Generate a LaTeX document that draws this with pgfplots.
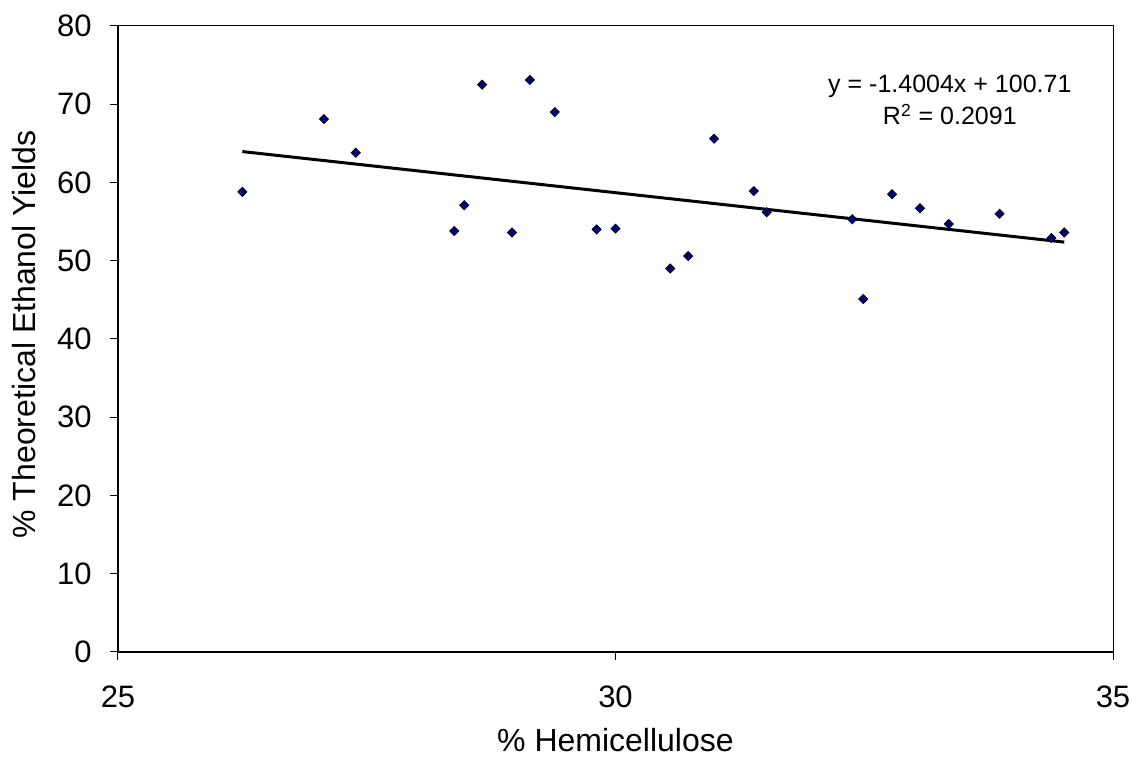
\documentclass[border=0pt]{standalone}
\usepackage{fontspec}
\setmainfont{Liberation Sans}
\usepackage{pgfplots}
\pgfplotsset{compat=1.18}
\definecolor{navymark}{RGB}{0,0,128}
\begin{document}
\begin{tikzpicture}
\begin{axis}[
  scale only axis, width=497.5pt, height=313pt,
  xmin=25, xmax=35, ymin=0, ymax=80,
  xtick={25,30,35}, ytick={0,10,...,80},
  tick align=outside, major tick length=4pt,
  xtick pos=lower, ytick pos=left,
  /pgf/number format/assume math mode=true,
  ticklabel style={font=\fontsize{15.5}{18}\selectfont},
  xticklabel style={anchor=north, inner sep=0pt, yshift=-12.5pt},
  yticklabel style={anchor=east, inner sep=0pt, xshift=-9pt},
  label style={font=\fontsize{16}{19}\selectfont},
  xlabel={\% Hemicellulose}, ylabel={\% Theoretical Ethanol Yields},
  xlabel style={at={(axis description cs:0.5,0)}, anchor=base, yshift=-50pt, inner sep=0pt},
  ylabel style={at={(axis description cs:0,0.5)}, anchor=base, yshift=41pt, xshift=2.25pt, inner sep=0pt},
  axis line style={line width=0.5pt},
  tick style={black, line width=0.5pt},
  clip=false,
]
\addplot[only marks, mark=square*, mark size=1.6pt, mark options={rotate=45, fill=navymark, draw=black, line width=0.4pt}]
coordinates {
(26.25,58.8) (27.07,68.1) (27.39,63.8) (28.66,72.5) (28.48,57.1) (28.38,53.8)
(29.14,73.1) (29.39,69.0) (28.96,53.6) (29.81,54.0) (30.00,54.1) (30.55,49.0)
(30.73,50.6) (30.99,65.6) (31.39,58.9) (31.52,56.2) (32.38,55.3) (32.49,45.1)
(32.78,58.5) (33.06,56.7) (33.35,54.7) (33.86,56.0) (34.38,52.9) (34.51,53.6)
};
\addplot[black, line width=1.5pt] coordinates {(26.25,63.95) (34.51,52.38)};
\draw[line width=1pt] (rel axis cs:0,1) -- (rel axis cs:0,0) -- (rel axis cs:1,0);
\node[anchor=base, font=\fontsize{12.5}{15}\selectfont, inner sep=0pt] at (axis cs:33.36,71.55) {y = -1.4004x + 100.71};
\node[anchor=base, font=\fontsize{12.5}{15}\selectfont, inner sep=0pt] at (axis cs:33.36,67.35) {R\textsuperscript{2} = 0.2091};
\coordinate (sw) at (rel axis cs:0,0);
\coordinate (ne) at (rel axis cs:1,1);
\end{axis}
\path[use as bounding box] ([xshift=-59pt,yshift=-52.5pt]sw) rectangle ([xshift=12pt,yshift=13pt]ne);
\end{tikzpicture}
\end{document}
